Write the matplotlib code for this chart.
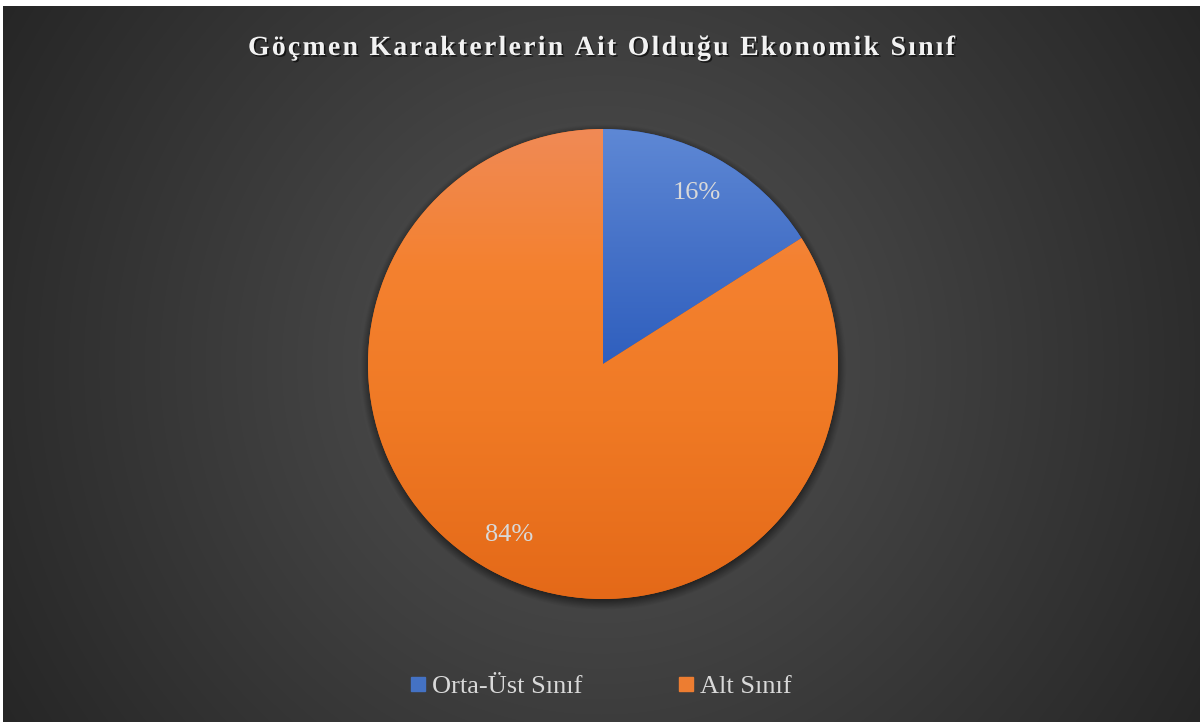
import numpy as np
import matplotlib
matplotlib.use("Agg")
import matplotlib.pyplot as plt
from matplotlib.lines import Line2D
import matplotlib.patheffects as pe

# ---- data ----
title = "Göçmen Karakterlerin Ait Olduğu Ekonomik Sınıf"
categories = ["Orta-Üst Sınıf", "Alt Sınıf"]
values = [16, 84]
# gradient stops (position, colour) per slice, top to bottom
gradient_stops = [
    [(0.0, "#5E88D5"), (0.5, "#4672C8"), (1.0, "#2F5FBE")],
    [(0.0, "#F08A56"), (0.3, "#F4812F"), (0.6, "#F07A25"), (1.0, "#E46918")],
]
legend_colors = ["#4472C4", "#ED7D31"]

W, H = 1203, 725
fig = plt.figure(figsize=(W / 100, H / 100), dpi=100)
fig.patch.set_facecolor("white")

# ---- background (radial gradient) ----
bl, br, bt, bb = 3, 1200, 6, 722
bg = fig.add_axes([bl / W, (H - bb) / H, (br - bl) / W, (bb - bt) / H])
bg.set_axis_off()
yy, xx = np.mgrid[bt:bb, bl:br]
cx, cy = 601, 364
d = np.sqrt((xx - cx) ** 2 + (yy - cy) ** 2) / 700.0
d = np.clip(d, 0, 1)
v = (84 - 46 * d) / 255.0
bg.imshow(np.dstack([v, v, v]), aspect="auto", extent=[0, 1, 0, 1], origin="upper")
bg.set_xlim(0, 1)
bg.set_ylim(0, 1)

# ---- pie ----
R = 235
pcx, pcy = 603, 364
half = 1.1 * R
ax = fig.add_axes([(pcx - half) / W, (H - pcy - half) / H, 2 * half / W, 2 * half / H])
ax.set_axis_off()

wedges, texts, autotexts = ax.pie(
    values, startangle=90, counterclock=False, radius=1,
    autopct="%1.0f%%", pctdistance=0.83,
    textprops=dict(color="#D9D9D9", family="Liberation Serif", fontsize=19),
    wedgeprops=dict(linewidth=0),
)
ax.set_xlim(-1.1, 1.1)
ax.set_ylim(-1.1, 1.1)
ax.set_aspect("auto")

# shadow
gy, gx = np.mgrid[-1.1:1.1:600j, -1.1:1.1:600j]
r = np.sqrt(gx ** 2 + (gy + 0.015) ** 2)
alpha = 0.55 * np.clip((1.035 - r) / 0.05, 0, 1)
sh = np.zeros((600, 600, 4))
sh[..., 3] = alpha
ax.imshow(sh, extent=[-1.1, 1.1, -1.1, 1.1], origin="lower", zorder=0.5, aspect="auto")

def build_gradient(stops, n=256):
    t = np.linspace(0, 1, n)
    pos = [s[0] for s in stops]
    cols = np.array([matplotlib.colors.to_rgb(s[1]) for s in stops])
    return np.stack([np.interp(t, pos, cols[:, k]) for k in range(3)], axis=1)

for w, stops in zip(wedges, gradient_stops):
    verts = w.get_patch_transform().transform(w.get_path().vertices)
    x0, x1 = verts[:, 0].min(), verts[:, 0].max()
    y0, y1 = verts[:, 1].min(), verts[:, 1].max()
    grad = build_gradient(stops)
    img = np.repeat(grad[:, None, :], 4, axis=1)
    w.set_facecolor(stops[-1][1])
    w.set_zorder(1)
    im = ax.imshow(img, extent=[x0, x1, y0, y1], origin="upper", aspect="auto", zorder=1.5)
    im.set_clip_path(w)

for t_ in autotexts:
    t_.set_zorder(3)

# ---- title with letter spacing ----
fig.canvas.draw()
renderer = fig.canvas.get_renderer()
tprops = dict(family="Liberation Serif", fontweight="bold", fontsize=20, color="#F2F2F2")
widths = []
for ch in title:
    tt = fig.text(0, 0, ch if ch != " " else "n", **tprops)
    w_ = tt.get_window_extent(renderer).width
    if ch == " ":
        tt2 = fig.text(0, 0, "n n", **tprops)
        w_ = tt2.get_window_extent(renderer).width - 2 * w_
        tt2.remove()
    widths.append(w_)
    tt.remove()
target = 955 - 248
spacing = (target - sum(widths)) / (len(title) - 1)
x = (248 + 955) / 2 - target / 2
ybase = (H - 55) / H
for ch, w_ in zip(title, widths):
    if ch != " ":
        fig.text(x / W, ybase, ch, ha="left", va="baseline",
                 path_effects=[pe.withSimplePatchShadow(offset=(1.2, -1.2), shadow_rgbFace="black", alpha=0.6)],
                 **tprops)
    x += w_ + spacing

# ---- legend ----
handles = [Line2D([], [], marker="s", linestyle="none", markersize=10.5,
                  markerfacecolor=c, markeredgecolor=c) for c in legend_colors]
fig.legend(handles, categories, loc="center", bbox_to_anchor=(601 / W, (H - 686) / H),
           ncol=2, frameon=False, handlelength=0.6, handletextpad=0.25,
           columnspacing=3.6, prop=dict(family="Liberation Serif", size=19),
           labelcolor="#D9D9D9")

fig.savefig("out.png", dpi=100, facecolor=fig.get_facecolor())
